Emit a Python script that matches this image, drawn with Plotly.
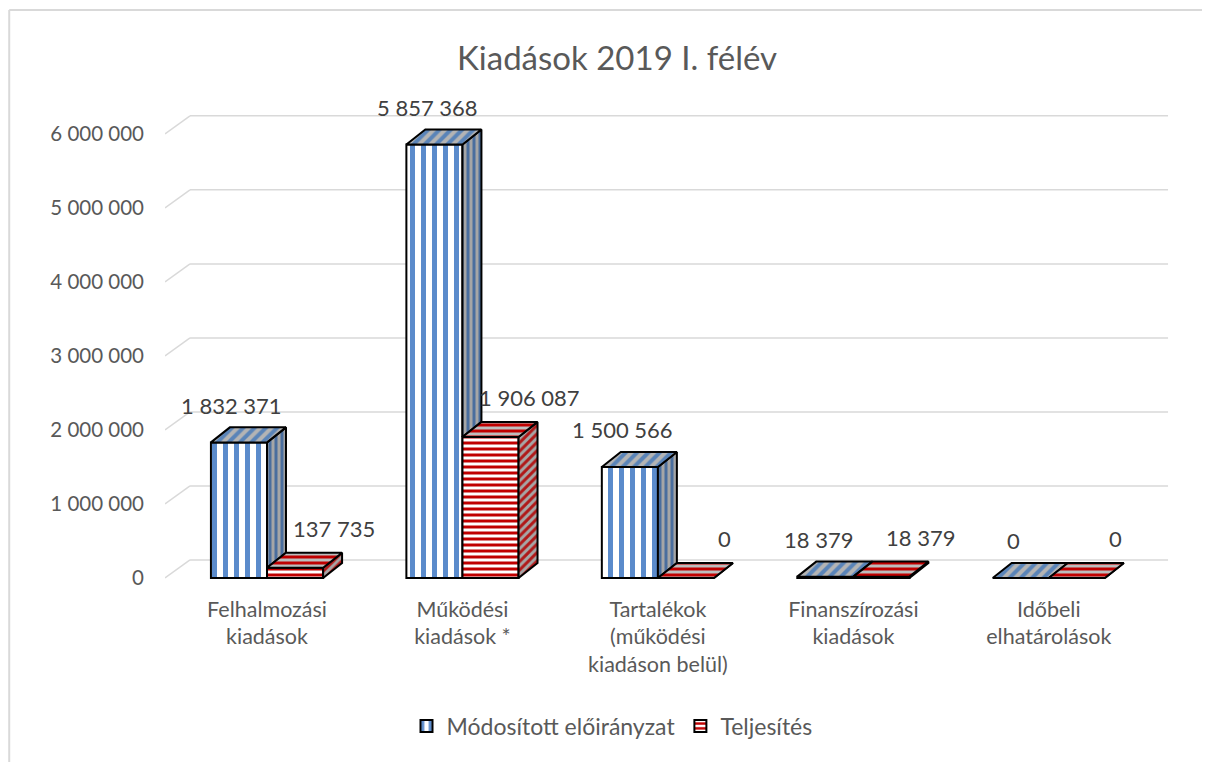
import plotly.graph_objects as go

# ---- data ----
categories = ["Felhalmozási<br>kiadások", "Működési<br>kiadások *",
              "Tartalékok<br>(működési<br>kiadáson belül)",
              "Finanszírozási<br>kiadások", "Időbeli<br>elhatárolások"]
modositott = [1832371, 5857368, 1500566, 18379, 0]
teljesites = [137735, 1906087, 0, 18379, 0]
y_ticks = [0, 1000000, 2000000, 3000000, 4000000, 5000000, 6000000]
series_names = ["Módosított előirányzat", "Teljesítés"]
title_text = "Kiadások 2019 I. félév"

# ---- styling / geometry ----
W = 0.287            # bar width (x units)
DX, DY = 0.097, 203000   # bar depth offset
GDX, GDY = 0.128, 244000 # back wall offset
XR = [-0.522, 4.62]
YR = [-27000, 6323000]
FONT = "Lato"
GREY = "#595959"
FW, FH = 1202, 754   # page body has an 8px margin

def fmt(v):
    return f"{v:,}".replace(",", " ")

xs = list(range(len(categories)))

fig = go.Figure()

fig.add_trace(go.Bar(
    x=xs, y=modositott, name=series_names[0], width=W, offset=-W,
    marker=dict(color="white", line=dict(color="black", width=2),
                pattern=dict(shape="|", fgcolor="#5B8BCB", bgcolor="white",
                             size=11, solidity=0.45, fillmode="replace")),
    hoverinfo="skip"))
fig.add_trace(go.Bar(
    x=xs, y=teljesites, name=series_names[1], width=W, offset=0,
    marker=dict(color="white", line=dict(color="black", width=2),
                pattern=dict(shape="-", fgcolor="#C00000", bgcolor="white",
                             size=6, solidity=0.5, fillmode="replace")),
    hoverinfo="skip"))

def faces(vals, left_off, lower_vals=None):
    sx, sy, tx, ty = [], [], [], []
    for i, v in enumerate(vals):
        xl = i + left_off
        xr = xl + W
        base = 0 if lower_vals is None else min(lower_vals[i], v)
        sx += [xr, xr + DX, xr + DX, xr, xr, None]
        sy += [base, base + DY, v + DY, v, base, None]
        tx += [xl, xl + DX, xr + DX, xr, xl, None]
        ty += [v, v + DY, v + DY, v, v, None]
    return sx, sy, tx, ty

bsx, bsy, btx, bty = faces(modositott, -W, teljesites)
rsx, rsy, rtx, rty = faces(teljesites, 0)

def face_trace(x, y, shape, fg, bg, size, sol):
    return go.Scatter(x=x, y=y, mode="lines", fill="toself",
                      line=dict(color="black", width=2),
                      fillcolor=bg,
                      fillpattern=dict(shape=shape, fgcolor=fg, bgcolor=bg,
                                       size=size, solidity=sol, fillmode="replace"),
                      showlegend=False, hoverinfo="skip")

fig.add_trace(face_trace(bsx, bsy, "|", "#4A6E9E", "#A6A6A6", 6, 0.5))
fig.add_trace(face_trace(btx, bty, "/", "#5A84B8", "#B4B4B4", 8, 0.5))
fig.add_trace(face_trace(rsx, rsy, "/", "#B01818", "#A6A6A6", 6, 0.5))
fig.add_trace(face_trace(rtx, rty, "-", "#C00000", "#BDBDBD", 6, 0.5))

# back-wall gridlines
shapes = []
for t in y_ticks:
    shapes.append(dict(type="line", xref="x", yref="y", x0=XR[0], y0=t,
                       x1=XR[0] + GDX, y1=t + GDY, layer="below",
                       line=dict(color="#D9D9D9", width=1.5)))
    shapes.append(dict(type="line", xref="x", yref="y", x0=XR[0] + GDX, y0=t + GDY,
                       x1=XR[1] - 0.01, y1=t + GDY, layer="below",
                       line=dict(color="#D9D9D9", width=1.5)))
# chart border (top & left)
shapes.append(dict(type="line", xref="paper", yref="paper", x0=-0.155, y0=1.2128,
                   x1=1.06, y1=1.2128, line=dict(color="#D9D9D9", width=2)))
shapes.append(dict(type="line", xref="paper", yref="paper", x0=-0.155, y0=1.2128,
                   x1=-0.155, y1=-0.45, line=dict(color="#D9D9D9", width=2)))

annotations = []
for i, v in enumerate(modositott):
    annotations.append(dict(x=i - W / 2, y=v + DY, text=fmt(v), showarrow=False,
                            xshift=-7, yshift=22, font=dict(family=FONT, size=22, color="#404040")))
for i, v in enumerate(teljesites):
    annotations.append(dict(x=i + W / 2, y=v + DY, text=fmt(v), showarrow=False,
                            xshift=39, yshift=24, font=dict(family=FONT, size=22, color="#404040")))

fig.update_layout(
    width=FW, height=FH,
    margin=dict(l=157, r=40, t=102, b=182, autoexpand=False),
    paper_bgcolor="white", plot_bgcolor="white",
    barmode="overlay",
    title=dict(text=title_text, x=609 / FW, xanchor="center", y=1 - 50 / FH,
               yanchor="middle", yref="container",
               font=dict(family=FONT, size=33, color=GREY)),
    font=dict(family=FONT, size=22, color=GREY),
    xaxis=dict(range=XR, tickvals=xs, ticktext=categories, showgrid=False,
               zeroline=False, showline=False, ticks="", ticklabelstandoff=14,
               automargin=False,
               tickfont=dict(family=FONT, size=21.5, color=GREY)),
    yaxis=dict(range=YR, tickvals=y_ticks, ticktext=[fmt(t) for t in y_ticks],
               showgrid=False, zeroline=False, showline=False, ticks="",
               ticklabelstandoff=20, automargin=False,
               tickfont=dict(family=FONT, size=20.5, color=GREY)),
    legend=dict(orientation="h", xref="container", yref="container",
                x=604 / FW, xanchor="center", y=1 - 718 / FH, yanchor="middle",
                font=dict(family=FONT, size=23, color=GREY), itemwidth=30,
                traceorder="normal"),
    shapes=shapes, annotations=annotations,
)

fig.write_html("out.html")
